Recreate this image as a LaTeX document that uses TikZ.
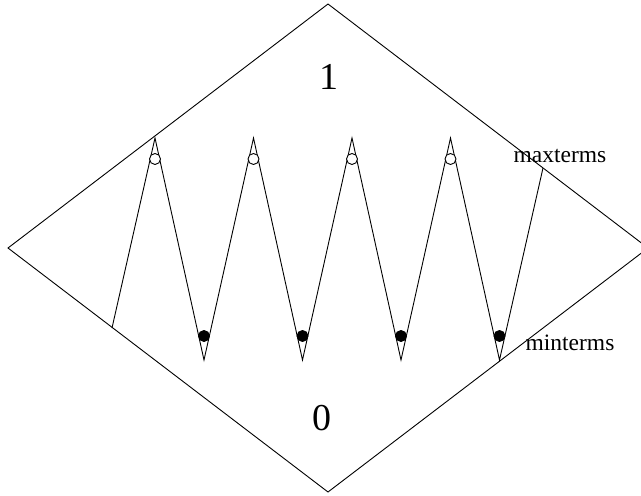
\documentclass[tikz,border=0pt]{standalone}
\usepackage{fontspec}
\setmainfont{Liberation Serif}
\begin{document}
\begin{tikzpicture}[x=1pt,y=-1pt,line width=0.9pt,
  opendot/.style={circle,draw,fill=white,inner sep=0pt,minimum size=11pt},
  fulldot/.style={circle,draw,fill=black,inner sep=0pt,minimum size=11pt},
  biglabel/.style={font=\fontsize{38}{40}\selectfont,inner sep=0pt},
  smalllabel/.style={font=\fontsize{23.5}{25}\selectfont,inner sep=0pt}]
\useasboundingbox (0,0) rectangle (641,496);
% diamond
\coordinate (T) at (328,4);
\coordinate (L) at (8,248);
\coordinate (R) at (648,248);
\coordinate (B) at (328,492);
\draw (T) -- (R) -- (B) -- (L) -- cycle;
% zigzag
\coordinate (s) at (112,328);
\coordinate (p1) at (155,138);
\coordinate (b1) at (204,360);
\coordinate (p2) at (253.5,138);
\coordinate (b2) at (302.5,360);
\coordinate (p3) at (352,138);
\coordinate (b3) at (401,360);
\coordinate (p4) at (450.5,138);
\coordinate (b4) at (499.5,360);
\coordinate (e) at (543,168);
\draw (s) -- (p1) -- (b1) -- (p2) -- (b2) -- (p3) -- (b3) -- (p4) -- (b4) -- (e);
% dots
\foreach \x [count=\i] in {155,253.5,352,450.5} {
  \node[opendot] (o\i) at (\x,159) {};
}
\foreach \x [count=\i] in {204,302.5,401,499.5} {
  \node[fulldot] (f\i) at (\x,336) {};
}
% labels
\node[biglabel] (one) at (329,77) {1};
\node[biglabel] (zero) at (322,418) {0};
\node[smalllabel,anchor=base] (max) at (560,162) {maxterms};
\node[smalllabel,anchor=base] (min) at (570,350) {minterms};
\end{tikzpicture}
\end{document}
